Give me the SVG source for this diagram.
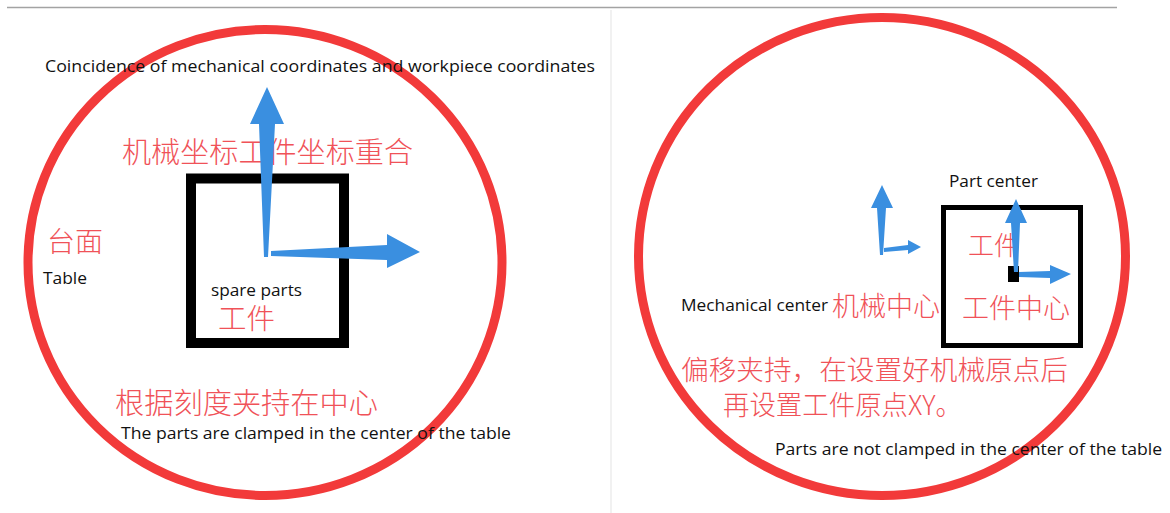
<svg xmlns="http://www.w3.org/2000/svg" width="1170" height="513" viewBox="0 0 1170 513">
<style>
.ring{fill:none;stroke:#f23a3a;stroke-width:9}
.box{fill:none;stroke:#000}
.arrow{fill:#3a8fe0}
.en{font-family:"Open Sans","Noto Sans","Liberation Sans",sans-serif;font-size:16px;fill:#111}
.zh{font-family:"Noto Sans CJK SC","Noto Sans",sans-serif;font-weight:300;fill:#f05258}
</style>
<rect width="1170" height="513" fill="#fff"/>
<line x1="7" y1="7.5" x2="1117" y2="7.5" stroke="#a3a3a3" stroke-width="1.5"/>
<line x1="611" y1="10" x2="611" y2="513" stroke="#e3e3e3" stroke-width="1"/>

<g id="left-table">
<ellipse class="ring" cx="265" cy="262.5" rx="237" ry="233"/>
<text class="zh" x="47" y="252" font-size="28" textLength="56" lengthAdjust="spacingAndGlyphs">台面</text>
<text class="en" x="43" y="284" textLength="44" lengthAdjust="spacingAndGlyphs">Table</text>
</g>
<g id="left-title">
<text class="en" x="45" y="72" textLength="550" lengthAdjust="spacingAndGlyphs">Coincidence of mechanical coordinates and workpiece coordinates</text>
<text class="zh" x="122" y="163" font-size="29" textLength="291" lengthAdjust="spacingAndGlyphs">机械坐标工件坐标重合</text>
</g>
<g id="left-part">
<rect class="box" x="191" y="178.5" width="153" height="164.5" stroke-width="10"/>
<text class="en" x="211" y="296" textLength="91" lengthAdjust="spacingAndGlyphs">spare parts</text>
<text class="zh" x="218" y="329" font-size="28" textLength="57" lengthAdjust="spacingAndGlyphs">工件</text>
</g>
<g id="left-caption">
<text class="zh" x="115" y="414" font-size="29" textLength="263" lengthAdjust="spacingAndGlyphs">根据刻度夹持在中心</text>
<text class="en" x="121" y="439" textLength="390" lengthAdjust="spacingAndGlyphs">The parts are clamped in the center of the table</text>
</g>

<g id="right-table">
<ellipse class="ring" cx="882" cy="256.5" rx="243.5" ry="239"/>
</g>
<g id="right-part">
<rect class="box" x="943.5" y="207.5" width="137" height="138" stroke-width="5"/>
<text class="en" x="949" y="187" textLength="89" lengthAdjust="spacingAndGlyphs">Part center</text>
<text class="zh" x="968" y="255" font-size="26" textLength="52" lengthAdjust="spacingAndGlyphs">工件</text>
<rect x="1008" y="266" width="11" height="16" fill="#000"/>
<text class="zh" x="962" y="318" font-size="27" textLength="108" lengthAdjust="spacingAndGlyphs">工件中心</text>
</g>
<g id="mech-center">
<text class="en" x="681" y="311" textLength="147" lengthAdjust="spacingAndGlyphs">Mechanical center</text>
<text class="zh" x="832" y="316" font-size="27" textLength="108" lengthAdjust="spacingAndGlyphs">机械中心</text>
</g>
<g id="right-caption">
<text class="zh" x="681" y="380" font-size="27.6" textLength="387" lengthAdjust="spacingAndGlyphs">偏移夹持，在设置好机械原点后</text>
<text class="zh" x="723" y="415" font-size="27.6" textLength="239" lengthAdjust="spacingAndGlyphs">再设置工件原点XY。</text>
<text class="en" x="775" y="455" textLength="387" lengthAdjust="spacingAndGlyphs">Parts are not clamped in the center of the table</text>
</g>

<g id="connectors">
<polygon class="arrow" points="267,87 284,124 275,124 268,257 264,257 259,124 250,124"/>
<polygon class="arrow" points="271,251 387,245 387,234 420,252 387,268 387,260 271,256"/>
<polygon class="arrow" points="882,185 893,208 886,208 883,255 880,255 877,208 871,208"/>
<polygon class="arrow" points="884,248 908,245 908,240 921,247 908,254 908,250 884,252"/>
<polygon class="arrow" points="1016,199 1027,223 1020,223 1018,272 1014,272 1011,223 1005,223"/>
<polygon class="arrow" points="1019,272 1050,271 1050,265 1071,274 1050,284 1050,278 1019,277"/>
</g>
</svg>
